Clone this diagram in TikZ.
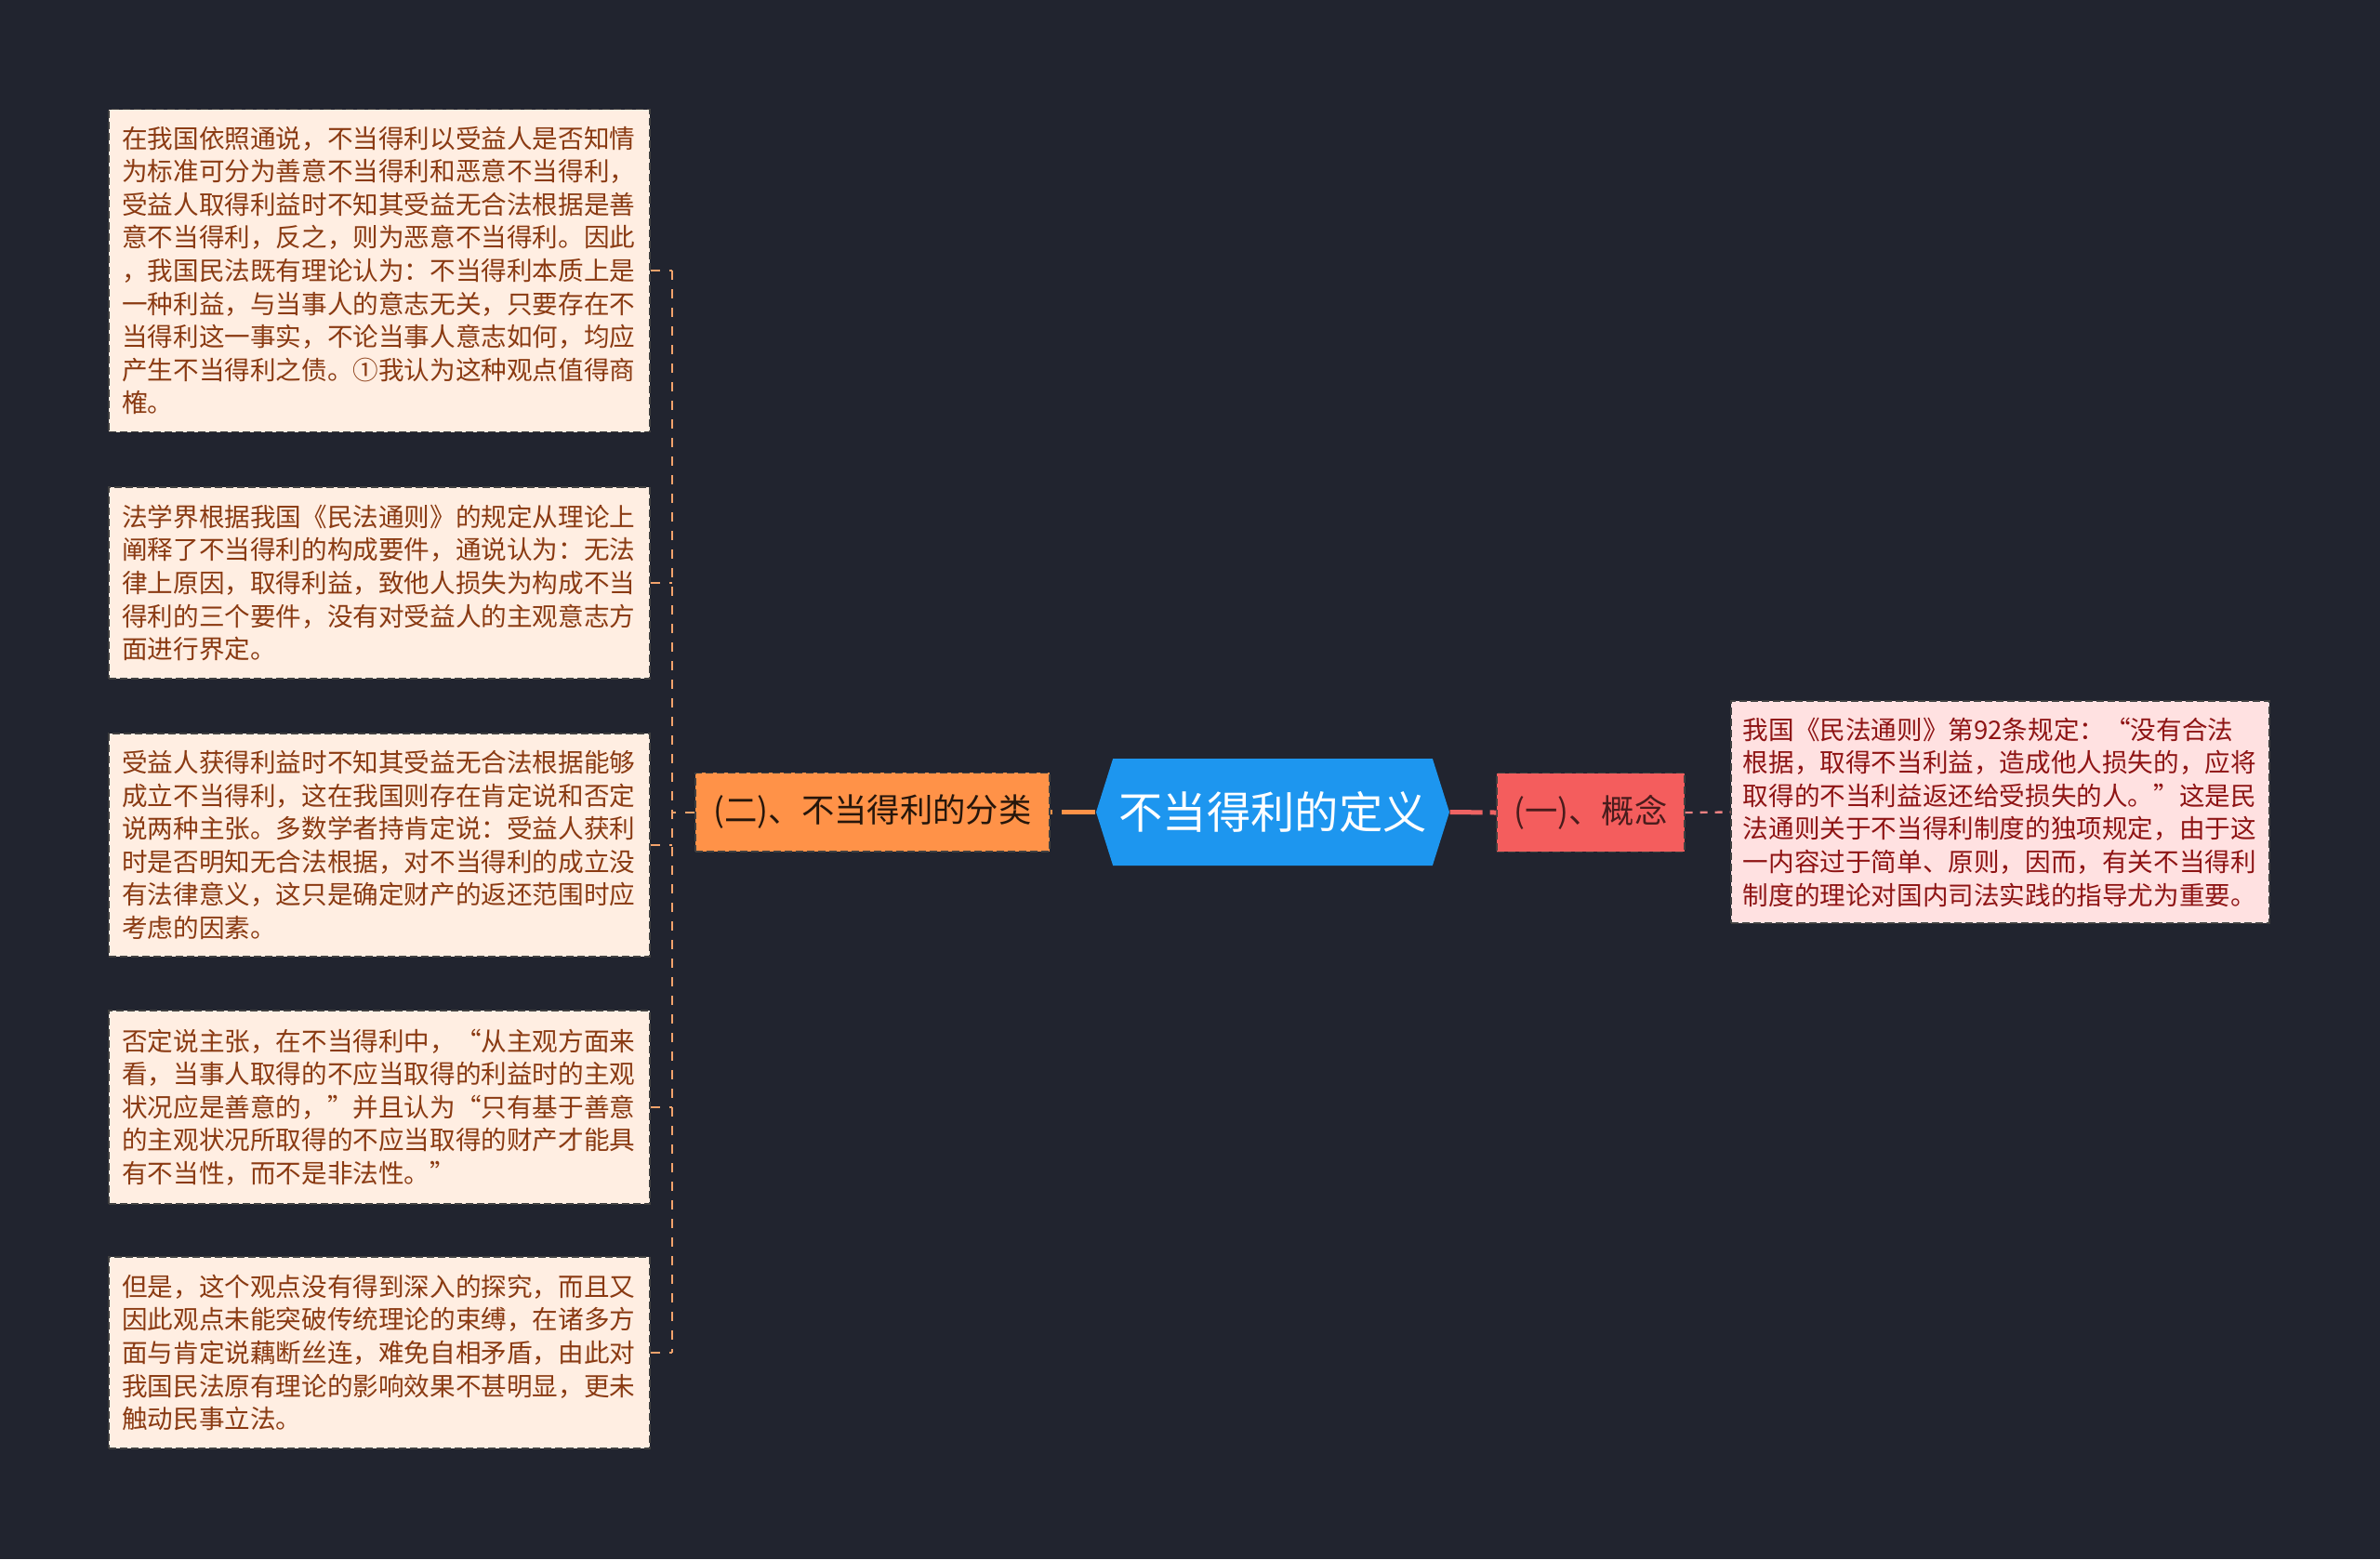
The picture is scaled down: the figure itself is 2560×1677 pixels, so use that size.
\documentclass[tikz,border=0pt]{standalone}
\usepackage{fontspec}
\setmainfont{Noto Sans CJK SC}
\usetikzlibrary{shapes.symbols}
\definecolor{bgcol}{HTML}{21242F}
\definecolor{rootblue}{HTML}{1D96EF}
\definecolor{orangebox}{HTML}{FF9248}
\definecolor{redbox}{HTML}{F45D5D}
\definecolor{leafpeach}{HTML}{FFEEE2}
\definecolor{leafpink}{HTML}{FFE1E1}
\definecolor{peachtext}{HTML}{8A3A12}
\definecolor{pinktext}{HTML}{8E1414}
\definecolor{orangeline}{HTML}{F3A36C}
\definecolor{redline}{HTML}{EE6363}
\newcommand\leaffont{\fontsize{8.28pt}{10.68pt}\selectfont}

\begin{document}
\begin{tikzpicture}
  [x=0.3pt,y=-0.3pt,
   leafbox/.style={rectangle,draw=black!75,dash pattern=on 2.4pt off 1.2pt,line width=0.4pt,
     fill=leafpeach,text=peachtext,font=\leaffont,text width=166pt,inner xsep=4.3pt,
     inner ysep=0pt,align=left,minimum width=174.6pt},
   branchbox/.style={rectangle,draw=black!75,dash pattern=on 2.4pt off 1.2pt,line width=0.4pt,
     font=\fontsize{10.6pt}{10.6pt}\selectfont,inner sep=0pt,minimum height=25.4pt},
   twigline/.style={orangeline,line width=0.6pt,dash pattern=on 3pt off 3pt}]

  \useasboundingbox (0,0) rectangle (2560,1677);
  \fill[bgcol] (0,0) rectangle (2560,1677);

  % root and branches
  \node (root) at (1369,873.5) [shape=signal,signal to=west and east,signal pointer angle=145,
    fill=rootblue,text=white,inner sep=0pt,minimum width=114pt,minimum height=34.5pt,
    font=\fontsize{14.2pt}{14.2pt}\selectfont] {不当得利的定义};
  \node (cls) at (938.5,873.5) [branchbox,fill=orangebox,text=black!85!orangebox,minimum width=114.3pt]
    {(二)、不当得利的分类};
  \node (idea) at (1711,874) [branchbox,fill=redbox,text=black!70!redbox,minimum width=60.6pt]
    {(一)、概念};

  % leaves
  \node (l1) at (408,291) [leafbox,minimum height=104.1pt]
    {在我国依照通说，不当得利以受益人是否知情\\为标准可分为善意不当得利和恶意不当得利，\\受益人取得利益时不知其受益无合法根据是善\\意不当得利，反之，则为恶意不当得利。因此\\，我国民法既有理论认为：不当得利本质上是\\一种利益，与当事人的意志无关，只要存在不\\当得利这一事实，不论当事人意志如何，均应\\产生不当得利之债。①我认为这种观点值得商\\榷。};
  \node (l2) at (408,627) [leafbox,minimum height=61.8pt]
    {法学界根据我国《民法通则》的规定从理论上\\阐释了不当得利的构成要件，通说认为：无法\\律上原因，取得利益，致他人损失为构成不当\\得利的三个要件，没有对受益人的主观意志方\\面进行界定。};
  \node (l3) at (408,909) [leafbox,minimum height=72pt]
    {受益人获得利益时不知其受益无合法根据能够\\成立不当得利，这在我国则存在肯定说和否定\\说两种主张。多数学者持肯定说：受益人获利\\时是否明知无合法根据，对不当得利的成立没\\有法律意义，这只是确定财产的返还范围时应\\考虑的因素。};
  \node (l4) at (408,1191) [leafbox,minimum height=62.4pt]
    {否定说主张，在不当得利中，“从主观方面来\\看，当事人取得的不应当取得的利益时的主观\\状况应是善意的，”并且认为“只有基于善意\\的主观状况所取得的不应当取得的财产才能具\\有不当性，而不是非法性。”};
  \node (l5) at (408,1455) [leafbox,minimum height=61.8pt]
    {但是，这个观点没有得到深入的探究，而且又\\因此观点未能突破传统理论的束缚，在诸多方\\面与肯定说藕断丝连，难免自相矛盾，由此对\\我国民法原有理论的影响效果不甚明显，更未\\触动民事立法。};
  \node (r1) at (2151.5,873.5) [leafbox,fill=leafpink,text=pinktext,minimum height=71.7pt,
    minimum width=173.7pt,inner xsep=3.85pt]
    {我国《民法通则》第92条规定：“没有合法\\根据，取得不当利益，造成他人损失的，应将\\取得的不当利益返还给受损失的人。”这是民\\法通则关于不当得利制度的独项规定，由于这\\一内容过于简单、原则，因而，有关不当得利\\制度的理论对国内司法实践的指导尤为重要。};

  % connectors
  \draw[orangebox,line width=1.5pt,dash pattern=on 10.8pt off 3pt] (root.west) -- (cls.east);
  \draw[redline,line width=1.5pt,dash pattern=on 10.5pt off 2.4pt] (root.east) -- (idea.west);
  \draw[redline!80!white,line width=0.7pt,dash pattern=on 2.4pt off 2.4pt] (idea.east) -- (r1.west);

  \coordinate (trunk) at (723,873.5);
  \draw[twigline] (cls.west) -- (trunk);
  \draw[twigline] (trunk |- l1.east) -- (trunk |- l5.east);
  \foreach \leaf in {l1,l2,l3,l4,l5}
    \draw[twigline] (\leaf.east) -- (\leaf.east -| trunk);

\end{tikzpicture}
\end{document}
